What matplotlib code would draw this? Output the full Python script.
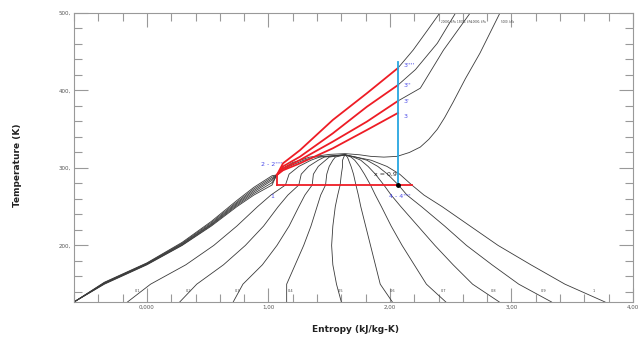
import matplotlib.pyplot as plt
from matplotlib.ticker import MultipleLocator, FixedLocator, FixedFormatter

# saturation dome (T in K, s in kJ/kg-K)
T_sat = [127, 150, 175, 200, 225, 250, 265, 278, 292, 302, 310, 314, 317]
s_liq = [-0.60, -0.35, 0.00, 0.29, 0.53, 0.74, 0.88, 1.03, 1.07, 1.17, 1.29, 1.38, 1.63]
s_vap = [3.77, 3.44, 3.16, 2.89, 2.66, 2.43, 2.28, 2.18, 2.08, 1.975, 1.845, 1.72, 1.63]

# constant quality lines, read at the T_sat levels
quality = {
    '0.1': [-0.16, 0.03, 0.32, 0.55, 0.74, 0.91, 1.02, 1.14, 1.17, 1.25, 1.35, 1.42, 1.63],
    '0.2': [0.27, 0.41, 0.63, 0.81, 0.96, 1.08, 1.16, 1.25, 1.27, 1.33, 1.41, 1.46, 1.63],
    '0.3': [0.71, 0.79, 0.95, 1.07, 1.17, 1.25, 1.30, 1.36, 1.37, 1.41, 1.47, 1.50, 1.63],
    '0.4': [1.15, 1.15, 1.22, 1.29, 1.35, 1.40, 1.43, 1.47, 1.48, 1.50, 1.53, 1.55, 1.63],
    '0.5': [1.60, 1.56, 1.53, 1.52, 1.53, 1.55, 1.57, 1.59, 1.60, 1.61, 1.61, 1.62, 1.63],
    '0.6': [2.02, 1.92, 1.88, 1.84, 1.80, 1.76, 1.74, 1.72, 1.70, 1.68, 1.66, 1.65, 1.63],
    '0.7': [2.46, 2.30, 2.20, 2.10, 2.01, 1.93, 1.88, 1.84, 1.79, 1.75, 1.71, 1.68, 1.63],
    '0.8': [2.90, 2.68, 2.52, 2.37, 2.23, 2.09, 2.01, 1.95, 1.88, 1.82, 1.76, 1.70, 1.63],
    '0.9': [3.33, 3.06, 2.84, 2.63, 2.45, 2.26, 2.14, 2.07, 1.98, 1.90, 1.81, 1.72, 1.63],
}
q_label_s = [-0.08, 0.34, 0.75, 1.18, 1.59, 2.02, 2.44, 2.85, 3.26, 3.68]
q_labels = ['0.1', '0.2', '0.3', '0.4', '0.5', '0.6', '0.7', '0.8', '0.9', '1']

# compressed liquid part of the isobars (lowest pressure first)
s_band = [-0.60, -0.35, 0.00, 0.29, 0.53, 0.74, 0.88, 1.03]
band_T = [
    [127, 150.5, 175.5, 200.5, 226, 251.5, 267, 281],
    [127, 151, 176, 201.5, 227, 253, 269, 284],
    [127, 151.5, 176.5, 202, 228, 254.5, 271, 286],
    [127, 152, 177, 203, 229.5, 256, 273, 288],
    [127, 152.5, 177.5, 204, 231, 258, 275, 290],
]

# near critical isobar passing over the dome
crit_s = [1.03, 1.10, 1.20, 1.34, 1.50, 1.63, 1.75, 1.84, 1.95, 2.06, 2.16, 2.25,
          2.32, 2.39, 2.45, 2.52, 2.62, 2.74, 2.905]
crit_T = [281, 298, 307, 314, 317.5, 318.5, 317, 315, 314, 315, 320, 327,
          337, 350, 365, 385, 415, 448, 500]

# heating 2 -> 3 (red) along the high pressure isobars
heat_s = [1.07, 1.12, 1.26, 1.53, 1.81, 2.066]
heat_T = {
    "3''''": [291, 306, 323, 362, 396.4, 429],
    "3''": [291, 302, 314.6, 344.7, 379, 407],
    "3'": [291, 299, 310.3, 334, 359.8, 386.5],
    "3": [291, 297, 306, 325.4, 349, 371],
}
state_T = [432, 407, 386, 367]

# the same isobars past the expansion line
top_s = [
    [2.066, 2.19, 2.31, 2.41],
    [2.066, 2.21, 2.39, 2.54],
    [2.066, 2.25, 2.44, 2.66],
]
top_T = [
    [429, 452, 478, 500],
    [407, 427, 461, 500],
    [386.5, 403, 452, 500],
]
p_labels = ['20000, kPa', '15000, kPa', '10000, kPa', '5000, kPa']
p_label_s = [2.42, 2.55, 2.67, 2.91]

s_1, T_1 = 1.07, 278      # low pressure level (states 1 and 4)
s_4, s_4end = 2.066, 2.18
T_2 = 291
T_blue_top = 437

fig = plt.figure(figsize=(6.4, 3.4), dpi=100)
ax = fig.add_axes([74 / 640, 1 - 302 / 340, 559 / 640, 289 / 340])
line = dict(color='#3a3a3a', lw=0.6)

ax.plot(s_liq, T_sat, **line)
ax.plot(s_vap, T_sat, **line)
for q, s in quality.items():
    ax.plot(s, T_sat, **line)
for T in band_T[:1]:
    ax.plot(s_band, T, **line)
for T in band_T[1:]:
    ax.plot(s_band + [s_1], T + [T_2], **line)
ax.plot(crit_s, crit_T, **line)
for s, T in zip(top_s, top_T):
    ax.plot(s, T, **line)

for x, lab in zip(q_label_s, q_labels):
    ax.text(x, 141, lab, fontsize=2.5, ha='center', va='center', color='#444444')
for x, lab in zip(p_label_s, p_labels):
    ax.text(x, 489, lab, fontsize=2.0, ha='left', va='center', color='#444444')

red = '#ee1c25'
for k, T in heat_T.items():
    ax.plot(heat_s, T, color=red, lw=1.3)
ax.plot([s_1, s_4end], [T_1, T_1], color=red, lw=1.3)
ax.plot([s_1, s_1], [T_1, T_2], color=red, lw=1.3)
ax.plot([s_4, s_4], [T_1, T_blue_top], color='#27a6e0', lw=1.3)
ax.plot([s_4], [T_1], 'o', color='black', ms=2.5)

blue_txt = '#4a4ae8'
ax.text(1.05, 263, '1', color=blue_txt, fontsize=4.5, ha='right', va='center')
ax.text(1.03, 304, "2 - 2''''", color=blue_txt, fontsize=4.5, ha='center', va='center')
ax.text(2.08, 263, "4 - 4''''", color=blue_txt, fontsize=4.5, ha='center', va='center')
for k, T in zip(heat_T, state_T):
    ax.text(2.11, T, k, color=blue_txt, fontsize=4.5, ha='left', va='center')
ax.text(1.96, 292, 'x = 0,9', color='#222222', fontsize=4.5, ha='center', va='center')

ax.set_xlim(-0.6, 4.0)
ax.set_ylim(127, 500)
ax.xaxis.set_major_locator(FixedLocator([0, 1, 2, 3, 4]))
ax.xaxis.set_major_formatter(FixedFormatter(['0,000', '1,00', '2,00', '3,00', '4,00']))
ax.xaxis.set_minor_locator(MultipleLocator(0.2))
ax.yaxis.set_major_locator(FixedLocator([200, 300, 400, 500]))
ax.yaxis.set_major_formatter(FixedFormatter(['200,', '300,', '400,', '500,']))
ax.yaxis.set_minor_locator(MultipleLocator(20))
ax.tick_params(which='both', direction='in', top=True, right=True, color='#999999',
               labelsize=4, labelcolor='#555555', pad=2)
ax.tick_params(which='major', length=10, width=0.8)
ax.tick_params(which='minor', length=6, width=0.8)
for sp in ax.spines.values():
    sp.set_color('#999999')

fig.text(18 / 640, 1 - 165 / 340, 'Temperature (K)', rotation=90, fontsize=6.5,
         fontweight='bold', ha='center', va='center', color='#222222')
fig.text(355 / 640, 1 - 330 / 340, 'Entropy (kJ/kg-K)', fontsize=6.5,
         fontweight='bold', ha='center', va='center', color='#222222')

fig.savefig('out.png', dpi=100)
